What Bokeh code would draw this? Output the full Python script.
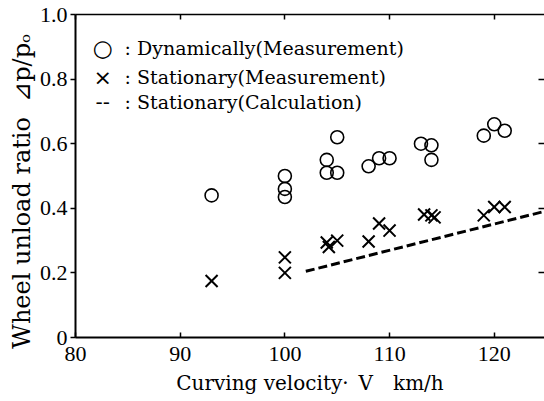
from bokeh.plotting import figure
from bokeh.models import Range1d, LinearAxis, FixedTicker, CustomJSTickFormatter, Label
from bokeh.embed import file_html
from bokeh.resources import INLINE

# Data
dyn_x = [93, 100, 100, 100, 104, 104, 105, 105, 108, 109, 110, 113, 114, 114, 119, 120, 121]
dyn_y = [0.44, 0.50, 0.46, 0.435, 0.55, 0.51, 0.51, 0.62, 0.53, 0.555, 0.555, 0.60, 0.595, 0.55, 0.625, 0.66, 0.64]

stat_x = [93, 100, 100, 104, 104.2, 105, 108, 109, 110, 113.3, 114, 114.3, 119, 120, 121]
stat_y = [0.175, 0.248, 0.20, 0.294, 0.28, 0.30, 0.297, 0.353, 0.331, 0.381, 0.378, 0.372, 0.378, 0.404, 0.404]

calc_x = [102, 125]
calc_y = [0.205, 0.392]

x_ticks = [80, 90, 100, 110, 120]
y_ticks = [0, 0.2, 0.4, 0.6, 0.8, 1.0]

legend_labels = [": Dynamically(Measurement)", ": Stationary(Measurement)", ": Stationary(Calculation)"]
legend_symbols = ["○", "×", "--"]

TEXT_FONT = "DejaVu Serif"
TICK_FONT = "Liberation Serif"

p = figure(width=544, height=401, output_backend="svg", toolbar_location=None,
           x_range=Range1d(80, 124.8), y_range=Range1d(0, 1.0),
           x_axis_location=None, y_axis_location=None,
           min_border_left=75, min_border_right=0, min_border_top=14, min_border_bottom=64)
p.outline_line_color = None
p.xgrid.visible = False
p.ygrid.visible = False
p.background_fill_color = "white"
p.border_fill_color = "white"

# bottom axis
xb = LinearAxis(ticker=FixedTicker(ticks=x_ticks))
xb.axis_label = "Curving velocity·\u2002V\u2003km/h"
xb.axis_label_text_font = TEXT_FONT
xb.axis_label_text_font_size = "20px"
xb.axis_label_text_font_style = "normal"
xb.axis_label_text_color = "black"
xb.axis_label_standoff = 7
xb.major_label_text_font = TICK_FONT
xb.major_label_text_font_size = "22px"
xb.major_label_text_color = "black"
xb.major_label_standoff = 9
xb.major_tick_in = 5
xb.major_tick_out = 0
xb.minor_tick_line_color = None
xb.axis_line_width = 2
xb.major_tick_line_width = 1.5
xb.axis_line_color = "black"
xb.major_tick_line_color = "black"
p.add_layout(xb, "below")

# left axis
yl = LinearAxis(ticker=FixedTicker(ticks=y_ticks))
yl.formatter = CustomJSTickFormatter(code="return tick == 0 ? '0' : tick.toFixed(1);")
yl.axis_label = "Wheel unload ratio\u00a0 ⊿p/pₒ\u00a0\u00a0\u00a0\u00a0"
yl.axis_label_text_font = TEXT_FONT
yl.axis_label_text_font_size = "24px"
yl.axis_label_text_font_style = "normal"
yl.axis_label_text_color = "black"
yl.axis_label_standoff = 1
yl.major_label_text_font = TICK_FONT
yl.major_label_text_font_size = "22px"
yl.major_label_text_color = "black"
yl.major_label_standoff = 3
yl.major_tick_in = 0
yl.major_tick_out = 5
yl.minor_tick_line_color = None
yl.axis_line_width = 2
yl.major_tick_line_width = 1.5
yl.axis_line_color = "black"
yl.major_tick_line_color = "black"
p.add_layout(yl, "left")

# top axis (ticks only, labels not painted)
xt = LinearAxis(ticker=FixedTicker(ticks=x_ticks))
xt.major_label_text_font_size = "1px"
xt.major_label_text_color = None
xt.major_label_standoff = 0
xt.major_tick_in = 5
xt.major_tick_out = 0
xt.minor_tick_line_color = None
xt.axis_line_width = 1.5
xt.major_tick_line_width = 1.5
xt.axis_line_color = "black"
xt.major_tick_line_color = "black"
p.add_layout(xt, "above")

# right axis (inner ticks only, no line)
yr = LinearAxis(ticker=FixedTicker(ticks=[0.2, 0.4, 0.6, 0.8]))
yr.major_label_text_font_size = "1px"
yr.major_label_text_color = None
yr.major_label_standoff = 0
yr.major_tick_in = 6
yr.major_tick_out = 0
yr.minor_tick_line_color = None
yr.axis_line_color = None
yr.major_tick_line_width = 1.5
yr.major_tick_line_color = "black"
p.add_layout(yr, "right")

# data
p.scatter(dyn_x, dyn_y, marker="circle", size=13, fill_color=None,
          line_color="black", line_width=1.6)
p.scatter(stat_x, stat_y, marker="x", size=17, line_color="black", line_width=2)
p.line(calc_x, calc_y, line_dash="9 4", line_width=3, line_color="black")

# legend as text
leg_y = [0.896, 0.806, 0.729]
for sym, lab, yy, fs in zip(legend_symbols, legend_labels, leg_y, ["23px", "22px", "20px"]):
    p.add_layout(Label(x=82.6, y=yy, text=sym, text_align="center", text_baseline="middle",
                       text_font="DejaVu Sans", text_font_size=fs, text_color="black"))
    p.add_layout(Label(x=84.69, y=yy, text=lab, text_align="left", text_baseline="middle",
                       text_font=TEXT_FONT, text_font_size="19px", text_color="black"))

open("out.html", "w").write(file_html(p, INLINE))
